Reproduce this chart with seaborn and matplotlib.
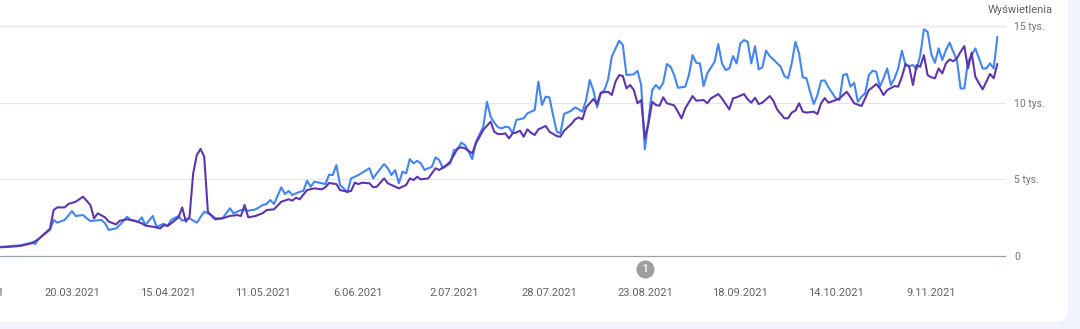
import numpy as np
import pandas as pd
import matplotlib
matplotlib.use("Agg")
import matplotlib.pyplot as plt
import matplotlib.dates as mdates
import matplotlib.transforms as mtransforms
from matplotlib.patches import FancyBboxPatch
import seaborn as sns

# ---------------- data ----------------
start_date = "2021-02-27"

blue_days = [0, 4, 7, 10, 11, 12, 15, 16, 17, 19, 21, 22, 24, 25, 26, 29, 30, 31, 33, 34,
             36, 37, 39, 40, 41, 43, 44, 46, 47, 48, 50, 51, 53, 55, 57, 59, 60, 62, 64, 65,
             67, 69, 71, 73, 74, 75, 76, 78, 79, 80, 81, 83, 84, 85, 86, 87, 89, 90, 91, 92,
             93, 94, 95, 96, 97, 99, 100, 102, 103, 104, 106, 107, 108, 109, 110, 111, 112, 113, 114, 115,
             116, 117, 119, 120, 121, 122, 124, 125, 126, 127, 128, 129, 130, 131, 133, 134, 135, 136, 137, 138,
             139, 140, 141, 142, 144, 145, 147, 148, 149, 150, 151, 152, 153, 154, 155, 157, 158, 159, 160, 161,
             162, 163, 164, 165, 166, 167, 168, 170, 171, 172, 174, 175, 176, 177, 178, 179, 180, 181, 182, 183,
             184, 185, 186, 188, 189, 190, 191, 192, 193, 194, 196, 197, 198, 199, 200, 201, 202, 203, 204, 205,
             206, 207, 208, 209, 210, 211, 212, 214, 215, 216, 217, 218, 219, 220, 221, 222, 223, 224, 225, 226,
             227, 229, 230, 231, 232, 233, 234, 235, 236, 237, 238, 239, 240, 241, 242, 243, 244, 245, 246, 247,
             248, 249, 250, 251, 252, 253, 254, 255, 256, 257, 258, 259, 260, 261, 262, 263, 264, 265, 266, 267,
             268, 269, 270, 271, 272, 273]
blue_vals = [560, 640, 700, 870, 780, 1150, 1700, 2350, 2170, 2350, 2930, 2610, 2670, 2460, 2280, 2350, 2130, 1700, 1800, 2020,
             2560, 2350, 2240, 2520, 2020, 2610, 1910, 2100, 1950, 2350, 2610, 2300, 2460, 2170, 2890, 2670, 2460, 2460, 3110, 2780,
             3000, 2950, 3040, 3330, 3390, 3650, 3390, 4480, 4040, 4240, 3980, 4190, 4240, 4910, 4520, 4850, 4740, 4690, 5300, 5280,
             5930, 4630, 4410, 4150, 5060, 5280, 5430, 5720, 5060, 5390, 6000, 5720, 5280, 5610, 4740, 5500, 5390, 6320, 6040, 6210,
             6040, 5610, 5820, 6430, 6260, 5720, 6040, 6910, 6960, 7390, 7240, 6800, 6320, 7450, 8430, 10060, 9080, 8700, 8400, 8320,
             8430, 8390, 8000, 8870, 8980, 9300, 9520, 11370, 9850, 10390, 10350, 9190, 8110, 8000, 9260, 9480, 9690, 9560, 9410, 10170,
             11480, 10780, 9690, 10610, 10820, 11520, 13000, 14040, 13760, 11800, 11850, 12080, 11150, 6960, 8870, 10820, 11150, 10900, 11300, 12520,
             12340, 11800, 10970, 11040, 11800, 13100, 12600, 12560, 11080, 11910, 12670, 13820, 12560, 12130, 12230, 13040, 12560, 13870, 14080, 13970,
             12560, 13690, 12170, 12300, 13390, 13040, 12820, 12340, 11740, 11590, 12560, 13970, 13210, 11650, 11590, 10710, 9910, 10500, 11430, 11450,
             11000, 10280, 10170, 11800, 11870, 11040, 11300, 10060, 10390, 10610, 11800, 12080, 12020, 11040, 11590, 12230, 11150, 11590, 12230, 13390,
             12450, 12390, 12450, 12170, 13100, 14780, 14630, 13170, 12600, 13540, 12780, 13430, 13910, 13320, 12740, 10930, 10930, 12670, 13100, 13540,
             12890, 12230, 12230, 12560, 12230, 14300]

purple_days = [0, 4, 7, 10, 12, 15, 16, 17, 19, 20, 22, 24, 26, 27, 28, 30, 31, 33, 34, 36,
               38, 40, 41, 43, 45, 46, 47, 48, 50, 51, 52, 53, 54, 55, 56, 57, 58, 59, 60, 62,
               64, 66, 67, 68, 69, 71, 73, 74, 76, 78, 80, 81, 82, 83, 85, 87, 89, 90, 91, 93,
               94, 96, 97, 98, 99, 100, 102, 103, 104, 106, 107, 109, 110, 112, 113, 114, 115, 116, 118, 119,
               120, 121, 123, 124, 125, 126, 127, 128, 130, 131, 133, 135, 136, 137, 138, 139, 140, 141, 142, 143,
               144, 145, 146, 147, 148, 150, 151, 153, 154, 155, 157, 158, 159, 160, 161, 163, 164, 165, 167, 168,
               169, 170, 171, 172, 173, 174, 175, 176, 177, 178, 179, 180, 181, 182, 183, 185, 186, 187, 188, 190,
               191, 193, 194, 195, 197, 198, 200, 201, 202, 204, 205, 206, 207, 208, 209, 211, 212, 213, 215, 216,
               217, 218, 219, 220, 221, 222, 223, 224, 225, 226, 227, 229, 230, 232, 233, 234, 236, 237, 238, 239,
               240, 241, 242, 243, 245, 246, 247, 248, 249, 250, 251, 252, 253, 254, 255, 256, 257, 258, 259, 260,
               261, 262, 263, 264, 265, 266, 267, 268, 269, 270, 271, 272, 273]
purple_vals = [550, 600, 660, 830, 1120, 1780, 3000, 3170, 3170, 3390, 3540, 3870, 3320, 2460, 2780, 2520, 2240, 2060, 2300, 2390,
               2300, 2130, 1980, 1910, 1800, 2020, 1960, 2130, 2520, 3170, 2240, 2560, 5390, 6590, 6980, 6480, 2890, 2610, 2390, 2460,
               2610, 2670, 2610, 3330, 2520, 2610, 2800, 3000, 3040, 3540, 3700, 3610, 3800, 3700, 4300, 4410, 4350, 4480, 4760, 4690,
               4300, 4190, 4240, 4780, 4690, 4780, 4740, 4480, 4520, 5060, 4740, 4520, 4410, 4630, 5060, 4950, 5170, 5000, 5060, 5390,
               5720, 5610, 5930, 6150, 6590, 7020, 7090, 7020, 6690, 7350, 8220, 8760, 8100, 7950, 7950, 8000, 7670, 8000, 8050, 8170,
               7780, 8260, 8040, 7890, 8260, 8480, 8110, 7820, 7780, 8170, 8610, 8910, 9040, 8910, 9690, 10240, 9910, 10650, 10710, 10500,
               11370, 11800, 11740, 10930, 11150, 10820, 9960, 10170, 7670, 8650, 10060, 9850, 9800, 10350, 9960, 9820, 9410, 8980, 9630, 10430,
               10130, 10170, 9960, 10280, 10560, 10280, 9560, 10280, 10350, 10560, 10220, 10000, 10320, 9910, 10000, 10430, 10130, 9560, 8980, 8980,
               9350, 9480, 9960, 9410, 9350, 9380, 9410, 9260, 9960, 10300, 10000, 10170, 10280, 10710, 10350, 9960, 9780, 10280, 10820, 11000,
               11210, 10930, 10500, 10820, 11080, 11040, 11690, 12520, 12340, 11150, 12450, 12340, 13100, 11800, 11650, 11590, 12230, 11910, 12560, 12820,
               12700, 12900, 13320, 13690, 12230, 13260, 11690, 11260, 10870, 11370, 11870, 11590, 12520]

tick_dates = ["2021-02-22", "2021-03-20", "2021-04-15", "2021-05-11", "2021-06-06", "2021-07-02",
              "2021-07-28", "2021-08-23", "2021-09-18", "2021-10-14", "2021-11-09"]
tick_labels = ["22.02.2021", "20.03.2021", "15.04.2021", "11.05.2021", "6.06.2021", "2.07.2021",
               "28.07.2021", "23.08.2021", "18.09.2021", "14.10.2021", "9.11.2021"]
y_ticks = [0, 5000, 10000, 15000]
y_tick_labels = ["0", "5 tys.", "10 tys.", "15 tys."]
axis_title = "Wyświetlenia"
annotation_date = "2021-08-23"
annotation_text = "1"
x_range = ["2021-02-20", "2021-11-29"]

# ---------------- styling ----------------
sns.set_theme(style="white")
plt.rcParams['font.family'] = ['Roboto', 'DejaVu Sans']

BLUE = "#4285f4"
PURPLE = "#5e35b1"
BG = "#f1f4fa"

fig = plt.figure(figsize=(10.8, 3.29), dpi=100)
fig.patch.set_facecolor(BG)

card = FancyBboxPatch((-40, 7), 1068 + 40, 400,
                      boxstyle="round,pad=0,rounding_size=14",
                      transform=mtransforms.IdentityTransform(),
                      facecolor="white", edgecolor="none", zorder=-10)
fig.add_artist(card)

ax = fig.add_axes([-0.02852, 0.2219, 0.9588, 0.6991])
ax.set_facecolor("none")

t0 = pd.Timestamp(start_date)
blue_df = pd.DataFrame({"date": t0 + pd.to_timedelta(blue_days, unit="D"), "value": blue_vals})
purple_df = pd.DataFrame({"date": t0 + pd.to_timedelta(purple_days, unit="D"), "value": purple_vals})

sns.lineplot(data=blue_df, x="date", y="value", ax=ax, color=BLUE, linewidth=1.5,
             estimator=None, zorder=3)
sns.lineplot(data=purple_df, x="date", y="value", ax=ax, color=PURPLE, linewidth=1.5,
             estimator=None, zorder=4)

ax.set_xlim(pd.Timestamp(x_range[0]), pd.Timestamp(x_range[1]))
ax.set_ylim(y_ticks[0], y_ticks[-1])
ax.set_xlabel("")
ax.set_ylabel("")

ax.set_xticks(pd.to_datetime(tick_dates))
ax.set_xticklabels(tick_labels)
ax.tick_params(axis="x", length=0, pad=23, labelsize=8, labelcolor="#5f6368")

ax.yaxis.tick_right()
ax.set_yticks(y_ticks)
ax.set_yticklabels(y_tick_labels)
ax.tick_params(axis="y", length=0, pad=7, labelsize=7.5, labelcolor="#70757a")

for s in ["top", "left", "right"]:
    ax.spines[s].set_visible(False)
ax.spines["bottom"].set_color("#9aa0a6")
ax.spines["bottom"].set_linewidth(0.9)

ax.yaxis.grid(True, color="#e6e6e6", linewidth=0.8)
ax.xaxis.grid(False)
glines = ax.get_ygridlines()
for v, gl in zip(y_ticks, glines):
    gl.set_clip_on(False)
    if v == y_ticks[0]:
        gl.set_visible(False)
    if v == y_ticks[-1]:
        gl.set_color("#eeeeee")
        gl.set_linewidth(1.8)
ax.set_axisbelow(True)

fig.text(1053 / 1080, 1 - 10 / 329, axis_title, ha="right", va="center",
         fontsize=8, color="#5f6368")

# annotation marker
trans = mtransforms.blended_transform_factory(ax.transData, ax.transAxes)
ax_x = mdates.date2num(pd.Timestamp(annotation_date))
ax.plot([ax_x], [-13 / 230], marker="o", markersize=12, color="#9e9e9e",
        transform=trans, clip_on=False, zorder=5)
ax.text(ax_x, -13 / 230, annotation_text, transform=trans, ha="center", va="center",
        color="white", fontsize=7, fontweight="bold", zorder=6, clip_on=False)

fig.savefig("out.png", dpi=100, facecolor=fig.get_facecolor())
